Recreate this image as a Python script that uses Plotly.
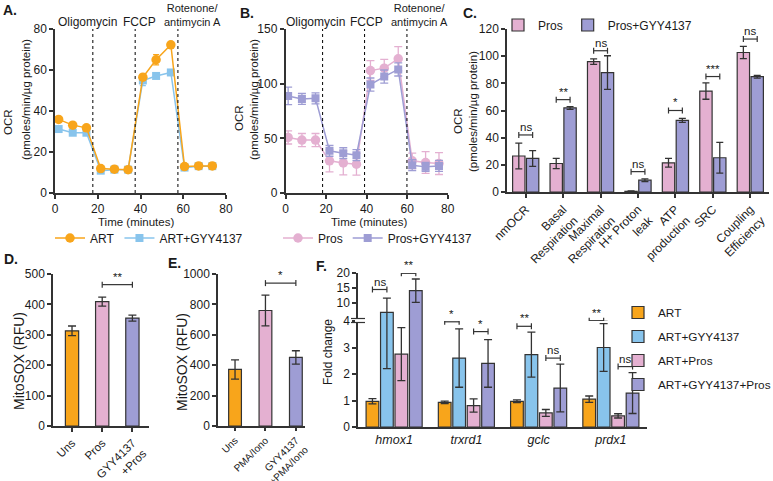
import plotly.graph_objects as go

W, H = 773, 481
def px(x): return x / W
def py(y): return 1 - y / H

FONT = "Liberation Sans, Arial, Helvetica, sans-serif"
ORANGE = "#F8A51B"
BLUE = "#88C4EC"
PINK = "#E4B0D1"
PURPLE = "#9E9DD4"
DARK = "#333333"
TXT = "#1a1a1a"

# ---------------- Panel A ----------------
A_TIME = [1.7, 8.3, 14.7, 21.4, 27.8, 34.2, 41.1, 47.3, 54.2, 60.6, 67.2, 73.6]
A_ART = [35.9, 33.1, 31.8, 11.9, 11.6, 11.4, 56.5, 65.0, 72.3, 12.9, 13.2, 13.2]
A_ART_ERR = [0.9, 0.8, 0.8, 0.6, 0.5, 0.5, 1.2, 2.5, 1.0, 0.6, 0.6, 0.6]
A_GYY = [31.2, 29.4, 29.4, 10.9, 11.4, 11.4, 54.9, 57.1, 58.8, 12.4, 13.1, 13.1]
A_GYY_ERR = [1.0, 0.9, 0.9, 0.5, 0.5, 0.5, 2.5, 1.0, 0.9, 0.5, 0.5, 0.5]
A_INJECT = [17.7, 37.5, 57.5]

# ---------------- Panel B ----------------
B_TIME = [1.3, 8.1, 14.8, 21.7, 28.5, 35.0, 41.9, 48.7, 55.6, 62.5, 69.1, 75.7]
B_PROS = [50.8, 48.4, 48.4, 29.4, 27.5, 26.3, 112.0, 114.2, 122.8, 29.4, 27.9, 26.9]
B_PROS_ERR = [6, 6, 6, 10, 11, 10, 9, 8, 11, 7, 10, 10]
B_GYY = [88.8, 86.0, 86.6, 38.6, 36.4, 34.6, 99.2, 106.5, 113.0, 25.4, 23.9, 24.8]
B_GYY_ERR = [8, 5, 5, 5, 5, 5, 6, 6, 6, 5, 4, 5]
B_INJECT = [18.3, 39.0, 59.9]

INJECT_LABELS = ["Oligomycin", "FCCP", "Rotenone/<br>antimycin A"]

# ---------------- Panel C ----------------
C_CATS = ["nmOCR", "Basal<br>Respiration", "Maximal<br>Respiration", "H+ Proton<br>leak",
          "ATP<br>production", "SRC", "Coupling<br>Efficiency"]
C_PROS = [26.5, 21.0, 96.0, 0.5, 21.5, 74.3, 102.7]
C_PROS_ERR = [9.5, 3.8, 2.0, 0.3, 3.2, 6.0, 4.5]
C_GYY = [24.7, 61.9, 87.9, 8.7, 52.7, 25.2, 84.9]
C_GYY_ERR = [5.8, 1.0, 12.4, 1.0, 1.5, 11.3, 1.0]
C_SIG = ["ns", "**", "ns", "ns", "*", "***", "ns"]
C_SIG_Y = [42, 68, 104, 15, 60, 85, 112.6]

# ---------------- Panel D ----------------
D_CATS = ["Uns", "Pros", "GYY4137<br>+Pros"]
D_VALS = [313, 409, 355]
D_ERR = [16, 15, 10]

# ---------------- Panel E ----------------
E_CATS = ["Uns", "PMA/Iono", "GYY4137<br>+PMA/Iono"]
E_VALS = [372, 760, 451]
E_ERR = [63, 101, 44]

# ---------------- Panel F ----------------
F_GENES = ["hmox1", "trxrd1", "gclc", "prdx1"]
F_ART = [0.97, 0.93, 0.97, 1.05]
F_ART_ERR = [0.1, 0.05, 0.05, 0.12]
F_GYY = [6.9, 2.6, 2.73, 3.0]
F_GYY_ERR = [4.7, 1.1, 0.85, 0.9]
F_PROS = [2.75, 0.81, 0.53, 0.42]
F_PROS_ERR = [1.0, 0.25, 0.13, 0.08]
F_BOTH = [14.1, 2.4, 1.47, 1.28]
F_BOTH_ERR = [3.9, 0.9, 0.9, 0.77]
F_SIG1 = ["ns", "*", "**", "**"]      # ART vs ART+GYY4137
F_SIG1_Y = [14.5, 3.97, 3.8, 4.1]
F_SIG2 = ["**", "*", "ns", "ns"]      # ART+Pros vs ART+GYY4137+Pros
F_SIG2_Y = [19.9, 3.6, 2.6, 2.28]
F_BREAK = 4

fig = go.Figure()

def errs(arr, color, width=3, thick=1.3):
    return dict(type="data", array=arr, color=color, thickness=thick, width=width, visible=True)

# ---- A traces
fig.add_trace(go.Scatter(x=A_TIME, y=A_GYY, name="ART+GYY4137", mode="lines+markers",
                         line=dict(color=BLUE, width=1.5),
                         marker=dict(symbol="square", size=8, color=BLUE),
                         error_y=errs(A_GYY_ERR, BLUE), xaxis="x", yaxis="y",
                         legend="legend", legendrank=2))
fig.add_trace(go.Scatter(x=A_TIME, y=A_ART, name="ART", mode="lines+markers",
                         line=dict(color=ORANGE, width=1.5),
                         marker=dict(symbol="circle", size=9.5, color=ORANGE),
                         error_y=errs(A_ART_ERR, ORANGE), xaxis="x", yaxis="y",
                         legend="legend", legendrank=1))
# ---- B traces
fig.add_trace(go.Scatter(x=B_TIME, y=B_PROS, name="Pros", mode="lines+markers",
                         line=dict(color=PINK, width=1.5),
                         marker=dict(symbol="circle", size=9.5, color=PINK),
                         error_y=errs(B_PROS_ERR, PINK, width=4), xaxis="x2", yaxis="y2",
                         legend="legend2", legendrank=1))
fig.add_trace(go.Scatter(x=B_TIME, y=B_GYY, name="Pros+GYY4137", mode="lines+markers",
                         line=dict(color=PURPLE, width=1.5),
                         marker=dict(symbol="square", size=8, color=PURPLE),
                         error_y=errs(B_GYY_ERR, PURPLE, width=4), xaxis="x2", yaxis="y2",
                         legend="legend2", legendrank=2))

# ---- C traces
for name, vals, err, col, off in [("Pros", C_PROS, C_PROS_ERR, PINK, -0.35),
                                  ("Pros+GYY4137", C_GYY, C_GYY_ERR, PURPLE, 0.02)]:
    fig.add_trace(go.Bar(x=C_CATS, y=vals, name=name, width=0.33, offset=off,
                         marker=dict(color=col, line=dict(color=DARK, width=1.2)),
                         error_y=errs(err, DARK, width=3.5), xaxis="x3", yaxis="y3",
                         legend="legend3"))

# ---- D, E traces
fig.add_trace(go.Bar(x=D_CATS, y=D_VALS, width=0.44, offset=-0.22, showlegend=False,
                     marker=dict(color=[ORANGE, PINK, PURPLE], line=dict(color=DARK, width=1.2)),
                     error_y=errs(D_ERR, DARK, width=4), xaxis="x4", yaxis="y4"))
fig.add_trace(go.Bar(x=E_CATS, y=E_VALS, width=0.42, offset=-0.21, showlegend=False,
                     marker=dict(color=[ORANGE, PINK, PURPLE], line=dict(color=DARK, width=1.2)),
                     error_y=errs(E_ERR, DARK, width=4), xaxis="x5", yaxis="y5"))

# ---- F traces (broken axis: lower y6, upper y7)
F_W = 0.176
F_CENTERS = [-0.3, -0.1, 0.1, 0.3]
F_SERIES = [("ART", F_ART, F_ART_ERR, ORANGE), ("ART+GYY4137", F_GYY, F_GYY_ERR, BLUE),
            ("ART+Pros", F_PROS, F_PROS_ERR, PINK), ("ART+GYY4137+Pros", F_BOTH, F_BOTH_ERR, PURPLE)]
for (name, vals, err, col), c in zip(F_SERIES, F_CENTERS):
    for yax, show in [("y6", True), ("y7", False)]:
        fig.add_trace(go.Bar(x=F_GENES, y=vals, name=name, width=F_W, offset=c - F_W / 2,
                             marker=dict(color=col, line=dict(color=DARK, width=1.2)),
                             error_y=errs(err, DARK, width=4), xaxis="x6", yaxis=yax,
                             legend="legend4", legendgroup=name, showlegend=show))

# ---------------- axes ----------------
def ax(**kw):
    d = dict(showline=True, linecolor=DARK, linewidth=1.5, ticks="outside", ticklen=4,
             tickwidth=1.5, tickcolor=DARK, showgrid=False, zeroline=False, automargin=False,
             tickfont=dict(size=12, color=TXT, family=FONT))
    d.update(kw)
    return d

small_tick = dict(size=11.5, color=TXT, family=FONT)
layout_axes = dict(
    xaxis=ax(domain=[px(55), px(226)], range=[0, 80], tickvals=[0, 20, 40, 60, 80], anchor="y"),
    yaxis=ax(domain=[py(193), py(29)], range=[0, 80], tickvals=[0, 20, 40, 60, 80], anchor="x"),
    xaxis2=ax(domain=[px(285.5), px(447.7)], range=[0, 80], tickvals=[0, 20, 40, 60, 80], anchor="y2"),
    yaxis2=ax(domain=[py(193), py(29)], range=[0, 150], tickvals=[0, 50, 100, 150], anchor="x2"),
    xaxis3=ax(domain=[px(507), px(769)], range=[-0.5, 6.5], tickangle=-45, anchor="y3"),
    yaxis3=ax(domain=[py(192), py(29)], range=[0, 120], tickvals=list(range(0, 121, 20)), anchor="x3"),
    xaxis4=ax(domain=[px(53), px(149)], range=[-0.63, 2.55], tickangle=-45, anchor="y4",
              tickfont=small_tick),
    yaxis4=ax(domain=[py(426), py(274)], range=[0, 500], tickvals=list(range(0, 501, 100)), anchor="x4"),
    xaxis5=ax(domain=[px(218), px(305)], range=[-0.56, 2.3], tickangle=-45, anchor="y5",
              ticklen=3, tickfont=dict(size=10, color=TXT, family=FONT)),
    yaxis5=ax(domain=[py(426), py(274)], range=[0, 1000], tickvals=list(range(0, 1001, 200)), anchor="x5"),
    xaxis6=ax(domain=[px(358), px(647)], range=[-0.5, 3.5], ticks="", anchor="y6",
              tickvals=F_GENES, ticktext=[f"<i>{g}</i>" for g in F_GENES],
              tickfont=dict(size=12.5, color=TXT, family=FONT)),
    yaxis6=ax(domain=[py(427), py(321)], range=[0, F_BREAK], tickvals=[0, 1, 2, 3, 4], anchor="x6"),
    yaxis7=ax(domain=[py(321), py(273)], range=[F_BREAK, 20], tickvals=[10, 15, 20], anchor="x6"),
)

shapes = []
annos = []

def text(x, y, s, size=12, xref="paper", yref="paper", angle=0, bold=False, xanchor="center",
         yanchor="middle", align="center", yshift=0):
    annos.append(dict(x=x, y=y, xref=xref, yref=yref, text=f"<b>{s}</b>" if bold else s,
                      showarrow=False, textangle=angle, xanchor=xanchor, yanchor=yanchor,
                      align=align, yshift=yshift, font=dict(size=size, color=TXT, family=FONT)))

def bracket(xa, ya, x0, x1, y, s):
    line = dict(color=DARK, width=1.2)
    shapes.append(dict(type="line", xref=xa, yref=ya, x0=x0, x1=x1, y0=y, y1=y, line=line))
    for xx in (x0, x1):
        shapes.append(dict(type="line", xref=xa, yref=ya, x0=xx, x1=xx, ysizemode="pixel",
                           yanchor=y, y0=-3, y1=3, line=line))
    text((x0 + x1) / 2, y, s, size=11.5, xref=xa, yref=ya, yanchor="bottom", yshift=0)

# injection lines + labels (label x in minutes)
for xa, inj, lx in [("x", A_INJECT, [15.2, 39.4, 64.2]),
                    ("x2", B_INJECT, [14.8, 39.9, 66.0])]:
    yref = "y domain" if xa == "x" else "y2 domain"
    for t in inj:
        shapes.append(dict(type="line", xref=xa, yref=yref, x0=t, x1=t, y0=0, y1=1,
                           line=dict(color="black", width=1, dash="dot")))
    for lab, x in zip(INJECT_LABELS, lx):
        multi = "<br>" in lab
        text(x, py(30) if multi else py(22), lab, size=11 if multi else 12, xref=xa,
             yanchor="bottom" if multi else "middle")

# C brackets
for i, (s, y) in enumerate(zip(C_SIG, C_SIG_Y)):
    bracket("x3", "y3", i - 0.185, i + 0.185, y, s)
# D, E brackets
bracket("x4", "y4", 1, 2, 465, "**")
bracket("x5", "y5", 1, 2, 940, "*")
# F brackets
for i in range(4):
    for (a, b), s, y in [((F_CENTERS[0], F_CENTERS[1]), F_SIG1[i], F_SIG1_Y[i]),
                         ((F_CENTERS[2], F_CENTERS[3]), F_SIG2[i], F_SIG2_Y[i])]:
        bracket("x6", "y7" if y > F_BREAK else "y6", i + a, i + b, y, s)

# F axis break mark
shapes.append(dict(type="rect", xref="paper", yref="paper", x0=px(355), x1=px(361),
                   y0=py(322.5), y1=py(318.5), fillcolor="white", line=dict(width=0)))
for yy in (318.5, 322.5):
    shapes.append(dict(type="line", xref="paper", yref="paper", x0=px(351), x1=px(365),
                       y0=py(yy), y1=py(yy), line=dict(color=DARK, width=1.2)))

# axis titles
text(px(8), py(122), "OCR", size=11.5, angle=-90)
text(px(26), py(100), "(pmoles/min/µg protein)", size=11.5, angle=-90)
text(px(239), py(118), "OCR", size=11.5, angle=-90)
text(px(254), py(100), "(pmoles/min/µg protein)", size=11.5, angle=-90)
text(px(458), py(121), "OCR", size=11.5, angle=-90)
text(px(473), py(112), "(pmoles/min/µg protein)", size=11.5, angle=-90)
text(px(136), py(214), "Time (minutes)", size=11.5, yanchor="top")
text(px(369), py(214), "Time (minutes)", size=11.5, yanchor="top")
text(px(19), py(361), "MitoSOX (RFU)", size=14, angle=-90)
text(px(182), py(362), "MitoSOX (RFU)", size=14, angle=-90)
text(px(328), py(352), "Fold change", size=12, angle=-90)

# panel letters
for lab, x, y in [("A.", 1, 10), ("B.", 238, 13), ("C.", 461, 13),
                  ("D.", 2, 259), ("E.", 166, 263), ("F.", 314, 266)]:
    text(px(x), py(y), lab, size=14, bold=True, xanchor="left")

legend_common = dict(font=dict(size=12, color=TXT, family=FONT), bgcolor="rgba(0,0,0,0)",
                     borderwidth=0, itemclick=False, itemdoubleclick=False)

fig.update_layout(
    width=W, height=H, margin=dict(l=0, r=0, t=0, b=0, pad=0, autoexpand=False),
    paper_bgcolor="white", plot_bgcolor="white",
    font=dict(family=FONT, size=12, color=TXT),
    barmode="overlay",
    shapes=shapes, annotations=annos,
    legend=dict(orientation="h", x=px(50), y=py(238), xanchor="left", yanchor="middle",
                **legend_common),
    legend2=dict(orientation="h", x=px(278), y=py(238), xanchor="left", yanchor="middle",
                 **legend_common),
    legend3=dict(orientation="h", x=px(498), y=py(25), xanchor="left", yanchor="middle",
                 **legend_common),
    legend4=dict(orientation="v", x=px(618), y=py(298), xanchor="left", yanchor="top",
                 tracegroupgap=5, font=dict(size=11.8, color=TXT, family=FONT),
                 bgcolor="rgba(0,0,0,0)", borderwidth=0, itemclick=False, itemdoubleclick=False),
    **layout_axes,
)

fig.write_html("out.html", config={"displayModeBar": False},
               post_script="document.body.style.margin='0';document.body.style.padding='0';")
